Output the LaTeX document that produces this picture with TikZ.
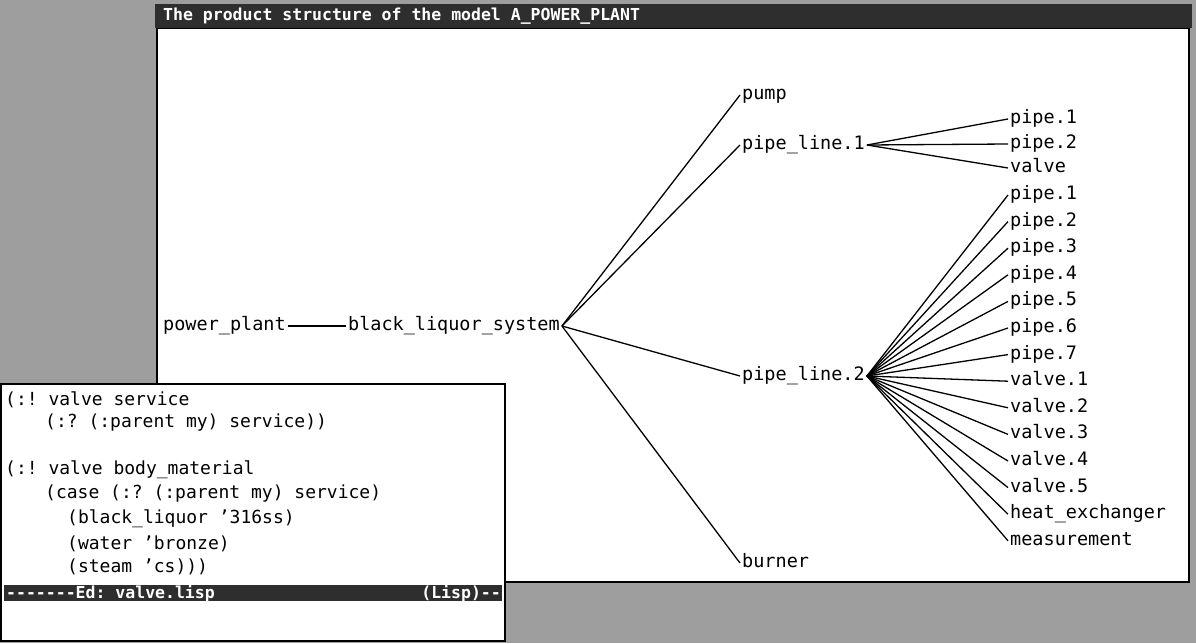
\documentclass[tikz,border=0pt]{standalone}
\usepackage{fontspec}
\setmonofont{DejaVu Sans Mono}
\usetikzlibrary{positioning}

\begin{document}
\begin{tikzpicture}[
    x=1pt, y=-1pt,
    every node/.style={font=\ttfamily\fontsize{18.5}{20}\selectfont},
    part/.style={anchor=west, inner xsep=2pt, inner ysep=0pt, text height=13pt, text depth=4pt},
    leaf/.style={part, minimum height=26.2pt},
    code/.style={anchor=west, inner sep=0pt, font=\ttfamily\fontsize{18}{20}\selectfont},
    link/.style={line width=1.3pt},
    bar/.style={fill=black!82, draw=none},
    bartext/.style={text=white, inner sep=0pt, font=\ttfamily\bfseries\fontsize{16.5}{18}\selectfont}
]
\useasboundingbox (0,0) rectangle (1196,643);

% --- desktop and the two windows ---
\fill[black!38] (0,0) rectangle (1196,643);
\draw[line width=2.5pt, fill=white] (157,28) rectangle (1189,582);
\fill[bar] (155,4) rectangle (1192,28);
\node[bartext, anchor=west] (title) at (163,16) {The product structure of the model A\_POWER\_PLANT};

% --- product tree ---
\node[part] (pp) at (161,326) {power\_plant};
\node[part, right=58pt of pp] (bls) {black\_liquor\_system};

\node[part] (pump) at (740,95) {pump};
\node[part] (pl1) at (740,145) {pipe\_line.1};
\node[part] (pl2) at (740,376) {pipe\_line.2};
\node[part] (burner) at (740,563) {burner};

% children of pipe_line.1
\node[part] (a1) at (1008,119) {pipe.1};
\node[part] (a2) at (1008,144) {pipe.2};
\node[part] (a3) at (1008,168) {valve};

% children of pipe_line.2, stacked one under the other
\node[leaf] (b1) at (1008,195) {pipe.1};
\node[leaf, below=0pt of b1.south west, anchor=north west] (b2) {pipe.2};
\node[leaf, below=0pt of b2.south west, anchor=north west] (b3) {pipe.3};
\node[leaf, below=0pt of b3.south west, anchor=north west] (b4) {pipe.4};
\node[leaf, below=0pt of b4.south west, anchor=north west] (b5) {pipe.5};
\node[leaf, below=0pt of b5.south west, anchor=north west] (b6) {pipe.6};
\node[leaf, below=0pt of b6.south west, anchor=north west] (b7) {pipe.7};
\node[leaf, below=0pt of b7.south west, anchor=north west] (b8) {valve.1};
\node[leaf, below=0pt of b8.south west, anchor=north west] (b9) {valve.2};
\node[leaf, below=0pt of b9.south west, anchor=north west] (b10) {valve.3};
\node[leaf, below=0pt of b10.south west, anchor=north west] (b11) {valve.4};
\node[leaf, below=0pt of b11.south west, anchor=north west] (b12) {valve.5};
\node[leaf, below=0pt of b12.south west, anchor=north west] (b13) {heat\_exchanger};
\node[leaf, below=0pt of b13.south west, anchor=north west] (b14) {measurement};

% --- tree edges ---
\draw[link] (pp.east) -- (bls.west);
\foreach \n in {pump,pl1,pl2,burner}
    \draw[link] (bls.east) -- (\n.west);
\foreach \n in {a1,a2,a3}
    \draw[link] (pl1.east) -- (\n.west);
\foreach \n in {1,...,14}
    \draw[link] (pl2.east) -- (b\n.west);

% --- editor window ---
\draw[line width=2pt, fill=white] (1,384) rectangle (505,641);
\node[code] (l1) at (5,400) {(:! valve service};
\node[code] (l2) at (45,423) {(:? (:parent my) service))};
\node[code] (l3) at (5,470) {(:! valve body\_material};
\node[code] (l4) at (45,494) {(case (:? (:parent my) service)};
\node[code] (l5) at (67,519) {(black\_liquor ’316ss)};
\node[code] (l6) at (67,544) {(water ’bronze)};
\node[code] (l7) at (67,567) {(steam ’cs)))};

% mode line
\fill[bar] (4,585) rectangle (502,601);
\node[bartext, anchor=west] (mode) at (6,593) {-------Ed: valve.lisp};
\node[bartext, anchor=east] (lang) at (501,593) {(Lisp)--};
\end{tikzpicture}
\end{document}
